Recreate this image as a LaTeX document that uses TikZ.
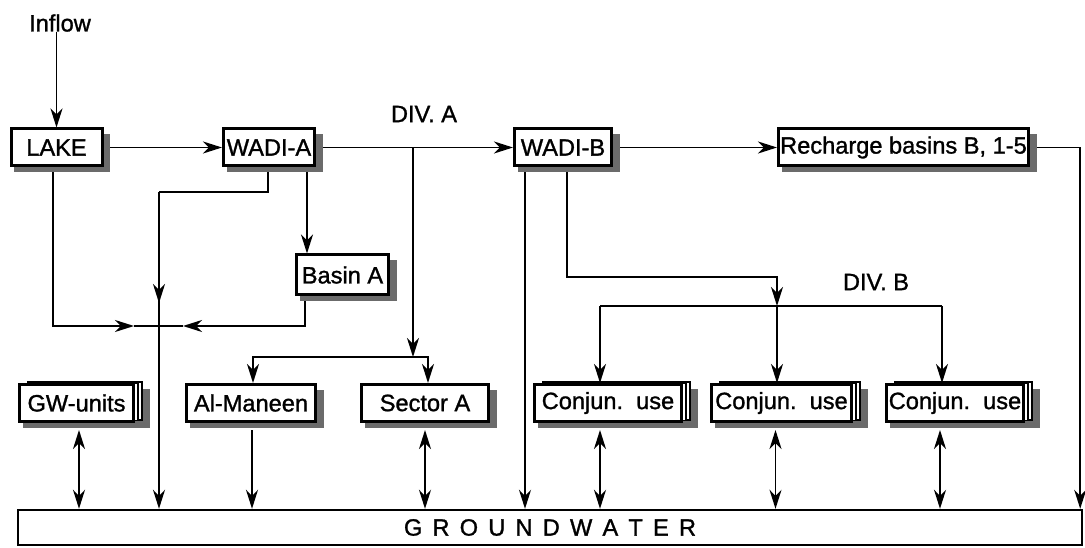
\documentclass[tikz,border=0pt]{standalone}
\usepackage{fontspec}
\setmainfont{Liberation Sans}
\newfontfamily\dfont{Liberation Sans}[FakeBold=1.2]
\usetikzlibrary{arrows.meta,backgrounds}
\definecolor{shadowc}{gray}{0.42}
\newcommand\plainbx[6]{%
  \fill[shadowc] ({#2-#4/2+3},{#3-#5/2+5}) rectangle ({#2+#4/2+8},{#3+#5/2+6.5});
  \node[boxst, minimum width=#4pt, minimum height=#5pt] (#1) at (#2,#3) {#6};
}
\newcommand\stackbx[6]{%
  \fill[shadowc] ({#2-#4/2+3},{#3-#5/2+4}) rectangle ({#2+#4/2+16},{#3+#5/2+6.5});
  \draw[line width=2pt, fill=white] ({#2-#4/2+8},{#3-#5/2-2.5}) rectangle ({#2+#4/2+8.5},{#3+#5/2-2});
  \draw[line width=1.2pt, fill=white] ({#2-#4/2+4},{#3-#5/2-1.2}) rectangle ({#2+#4/2+4.5},{#3+#5/2-1});
  \node[boxst, minimum width=#4pt, minimum height=#5pt] (#1) at (#2,#3) {#6};
}
\begin{document}
\begin{tikzpicture}[x=1pt,y=-1pt,
  every node/.style={font=\dfont\fontsize{23.6}{28}\selectfont, inner sep=0pt},
  boxst/.style={draw, line width=3pt, fill=white},
  conn/.style={line width=1.8pt},
  tip/.tip={Stealth[length=19pt,width=12pt,inset=6pt]},
  arr/.style={conn, -tip},
  darr/.style={conn, tip-tip}]
\useasboundingbox (0,0) rectangle (1085,548);

% labels
\node (inflow) at (60,23) {Inflow};
\node (diva) at (424,114) {DIV. A};
\node (divb) at (876,282) {DIV. B};

% boxes
\plainbx{lake}{56.5}{147.5}{91}{37}{LAKE}
\plainbx{wadia}{269}{147.5}{91}{37}{WADI-A}
\plainbx{wadib}{563}{147.5}{97}{37}{WADI-B}
\plainbx{rech}{903.5}{147.5}{250}{37}{Recharge basins B, 1-5}
\plainbx{basin}{342.5}{275}{92}{40}{Basin A}
\stackbx{gwu}{76.5}{403}{114}{37}{GW-units}
\plainbx{alm}{251}{403}{129}{37}{Al-Maneen}
\plainbx{seca}{425}{403}{127}{37}{Sector A}
\stackbx{cj1}{608}{403}{147}{37}{Conjun.\ \ use}
\stackbx{cj2}{781.5}{403}{140}{37}{Conjun.\ \ use}
\stackbx{cj3}{955}{403}{137}{37}{Conjun.\ \ use}
\node[draw, line width=2.4pt, fill=white, minimum width=1064pt, minimum height=35pt] (gw) at (550,527.5)
  {G\hspace{10.2pt}R\hspace{10.2pt}O\hspace{10.2pt}U\hspace{10.2pt}N\hspace{10.2pt}D\hspace{10.2pt}W\hspace{10.2pt}A\hspace{10.2pt}T\hspace{10.2pt}E\hspace{10.2pt}R};

\begin{scope}[on background layer]
% top chain
\draw[arr] (inflow.south -| lake.north) -- (lake.north);
\draw[arr] (lake.east) -- (wadia.west);
\draw[arr] (wadia.east) -- (wadib.west);
\draw[arr] (wadib.east) -- (rech.west);
\draw[arr] (rech.east) -| ([xshift=-3pt]gw.north east);

% DIV. A
\coordinate (divA) at (413,147.5);
\coordinate (divAj) at (413,357);
\draw[arr] (divA) -- (divAj);
\draw[arr] (divAj) -| ([xshift=2pt]alm.north);
\draw[arr] (divAj) -| ([xshift=3pt]seca.north);

% WADI-A lower branches
\coordinate (wa1) at ([xshift=-1pt]wadia.south);
\coordinate (k1) at (159,192);
\coordinate (k2) at (159,303);
\draw[conn] (wa1) |- (k1);
\draw[arr] (k1) -- (k2);
\draw[arr] (k1) -- (k1 |- gw.north);
\coordinate (wa2) at ([xshift=38pt]wadia.south);
\draw[arr] (wa2) -- (wa2 |- basin.north);

% junction below LAKE / Basin A
\coordinate (lk) at ([xshift=-3.5pt]lake.south);
\coordinate (jl) at (134,326);
\coordinate (jx) at (159,326);
\coordinate (jr) at (183,326);
\draw[arr] (lk) |- (jl);
\draw[conn] (jl) -- (jx) -- (jr);
\coordinate (bs) at ([xshift=-37.5pt]basin.south);
\draw[arr] (bs) |- (jr);

% WADI-B branches
\coordinate (wb1) at ([xshift=-38pt]wadib.south);
\draw[arr] (wb1) -- (wb1 |- gw.north);
\coordinate (wb2) at ([xshift=4pt]wadib.south);
\coordinate (kB) at (777,277);
\coordinate (divBj) at (777,306);
\draw[arr] (wb2) |- (kB) -- (divBj);
\coordinate (dBl) at (600,306);
\coordinate (dBr) at (942,306);
\draw[conn] (dBl) -- (dBr);
\draw[arr] (dBl) -- (dBl |- cj1.north);
\draw[arr] (divBj) -- (divBj |- cj2.north);
\draw[arr] (dBr) -- (dBr |- cj3.north);

% links to groundwater
\coordinate (s1) at ([xshift=2.5pt,yshift=-7pt]gwu.south);
\draw[darr] (s1) -- (s1 |- gw.north);
\coordinate (s2) at ([xshift=1pt,yshift=-7pt]alm.south);
\draw[arr] (s2) -- (s2 |- gw.north);
\coordinate (s3) at ([yshift=-7pt]seca.south);
\draw[darr] (s3) -- (s3 |- gw.north);
\coordinate (s4) at ([xshift=-8pt,yshift=-7pt]cj1.south);
\draw[darr] (s4) -- (s4 |- gw.north);
\coordinate (s5) at ([xshift=-6pt,yshift=-7pt]cj2.south);
\draw[darr] (s5) -- (s5 |- gw.north);
\coordinate (s6) at ([xshift=-15pt,yshift=-7pt]cj3.south);
\draw[darr] (s6) -- (s6 |- gw.north);
\end{scope}
\end{tikzpicture}
\end{document}
